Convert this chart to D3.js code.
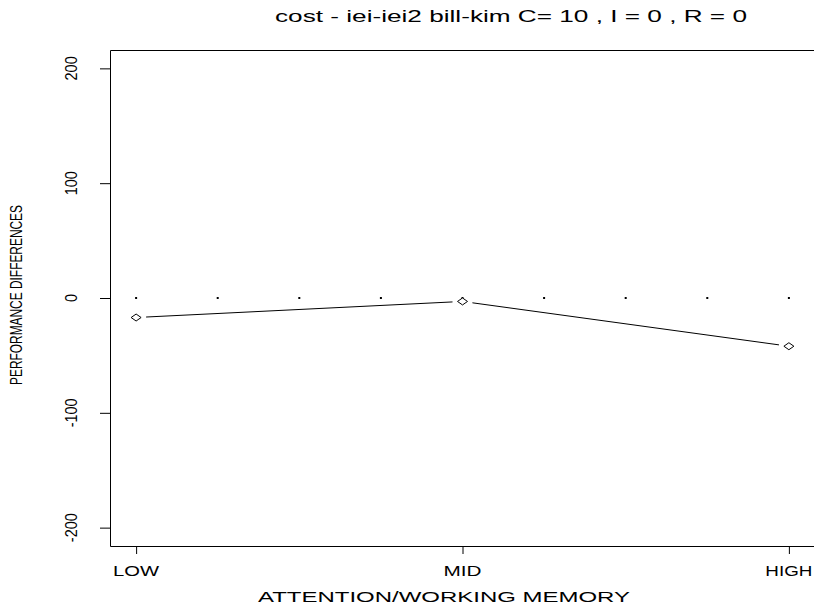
<!DOCTYPE html>
<html><head><meta charset="utf-8">
<script src="https://cdn.jsdelivr.net/npm/d3@7"></script>
<style>body{margin:0;background:#fff}svg{display:block}</style>
</head><body>
<script>
const categories = ["LOW", "MID", "HIGH"];
const catX = [1, 2, 3];
const values = [-17, -3, -42];
const refX = [1, 1.25, 1.5, 1.75, 2, 2.25, 2.5, 2.75, 3];
const refY = 0;
const yTicks = [-200, -100, 0, 100, 200];
const titleText = "cost - iei-iei2 bill-kim C= 10 , I = 0 , R = 0";
const xTitle = "ATTENTION/WORKING MEMORY";
const yTitle = "PERFORMANCE DIFFERENCES";

const W = 814, H = 605;
const L = 110, R = 815, T = 50, B = 546;
const font = "'Liberation Sans', Arial, Helvetica, sans-serif";

const svg = d3.select("body").append("svg").attr("width", W).attr("height", H);
const x = d3.scaleLinear().domain([0.92, 3.08]).range([L, R]);
const y = d3.scaleLinear().domain([-216, 216]).range([B, T]);

// plot box (right edge just outside the window)
svg.append("path").attr("d", `M${R + 2},${T + 0.5} H${L + 0.5} V${B + 0.5} H${R + 2}`)
  .attr("fill", "none").attr("stroke", "#000").attr("stroke-width", 1);

// y axis
const ya = svg.append("g").attr("transform", `translate(${L},0)`)
  .call(d3.axisLeft(y).tickValues(yTicks).tickSize(10).tickFormat(""));
ya.select(".domain").remove();
ya.selectAll("line").attr("stroke", "#000");
yTicks.forEach(v => {
  svg.append("text").attr("transform", `translate(${L - 33},${y(v)}) scale(1.2,1) rotate(-90)`)
    .attr("text-anchor", "middle").attr("font-family", font).attr("font-size", 14.5)
    .text(v);
});

// x axis
const xa = svg.append("g").attr("transform", `translate(0,${B})`)
  .call(d3.axisBottom(x).tickValues(catX).tickSize(8).tickFormat(""));
xa.select(".domain").remove();
xa.selectAll("line").attr("stroke", "#000");
const catW = {LOW: 46, MID: 38, HIGH: 47};
categories.forEach((c, i) => {
  svg.append("text").attr("x", x(catX[i])).attr("y", B + 30)
    .attr("text-anchor", "middle").attr("font-family", font).attr("font-size", 14)
    .attr("textLength", catW[c]).attr("lengthAdjust", "spacingAndGlyphs")
    .text(c);
});

// titles
svg.append("text").attr("x", 444).attr("y", B + 56)
  .attr("text-anchor", "middle").attr("font-family", font).attr("font-size", 14)
  .attr("textLength", 372).attr("lengthAdjust", "spacingAndGlyphs").text(xTitle);
svg.append("text").attr("transform", `translate(${22},${295}) scale(1.25,1) rotate(-90)`)
  .attr("text-anchor", "middle").attr("font-family", font).attr("font-size", 12.5)
  .attr("textLength", 180).attr("lengthAdjust", "spacingAndGlyphs").text(yTitle);
svg.append("text").attr("x", 511).attr("y", 22)
  .attr("text-anchor", "middle").attr("font-family", font).attr("font-size", 17)
  .attr("textLength", 472).attr("lengthAdjust", "spacingAndGlyphs").text(titleText);

// reference dots
svg.selectAll("rect.ref").data(refX).enter().append("rect").attr("class", "ref")
  .attr("x", d => x(d) - 1).attr("y", y(refY) - 1).attr("width", 2).attr("height", 2)
  .attr("fill", "#000");

// line segments with gaps
const pts = catX.map((c, i) => [x(c), y(values[i])]);
const gap = 10;
for (let i = 0; i < pts.length - 1; i++) {
  const [x0, y0] = pts[i], [x1, y1] = pts[i + 1];
  const dx = x1 - x0, dy = y1 - y0, len = Math.hypot(dx, dy);
  const ux = dx / len, uy = dy / len;
  svg.append("line").attr("x1", x0 + ux * gap).attr("y1", y0 + uy * gap)
    .attr("x2", x1 - ux * gap).attr("y2", y1 - uy * gap)
    .attr("stroke", "#000").attr("stroke-width", 1);
}
// diamonds
svg.selectAll("path.pt").data(pts).enter().append("path").attr("class", "pt")
  .attr("d", d => `M${d[0] - 5},${d[1]} L${d[0]},${d[1] - 3.5} L${d[0] + 5},${d[1]} L${d[0]},${d[1] + 3.5} Z`)
  .attr("fill", "#fff").attr("stroke", "#000").attr("stroke-width", 1);
</script>
</body></html>
